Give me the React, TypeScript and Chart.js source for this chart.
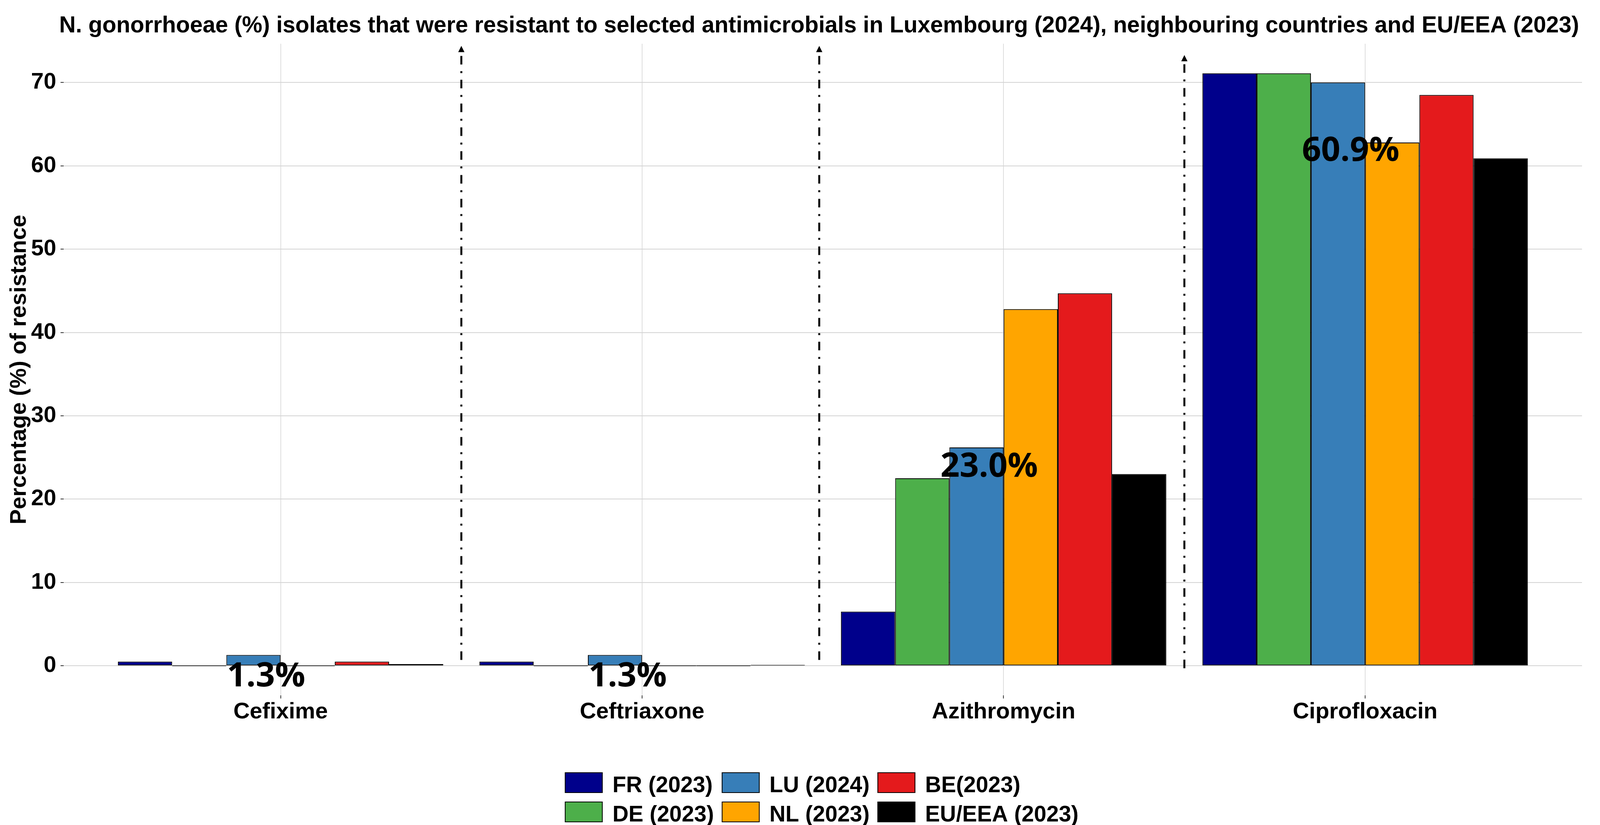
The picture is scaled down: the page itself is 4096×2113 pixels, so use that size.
import React, { useEffect, useRef } from "react";
import { Chart, registerables } from "chart.js";

Chart.register(...registerables);

// ---------------- data ----------------
const categories = ["Cefixime", "Ceftriaxone", "Azithromycin", "Ciprofloxacin"];
const seriesNames = ["FR (2023)", "DE (2023)", "LU (2024)", "NL (2023)", "BE(2023)", "EU/EEA (2023)"];
const seriesColors = ["#00008B", "#4DAF4A", "#377EB8", "#FFA500", "#E41A1C", "#000000"];
const frValues = [0.5, 0.5, 6.5, 71.1];
const deValues = [0, 0, 22.5, 71.1];
const luValues = [1.3, 1.3, 26.2, 70.0];
const nlValues = [0, 0, 42.8, 62.8];
const beValues = [0.5, 0, 44.7, 68.5];
const euValues = [0.2, 0.1, 23.0, 60.9];
const yTicks = [0, 10, 20, 30, 40, 50, 60, 70];
const labelTexts = ["1.3%", "1.3%", "23.0%", "60.9%"];
const labelY = [-2.5, -2.5, 22.7, 60.6];
const separatorX = [0.5, 1.49, 2.5];
const separatorFrom = [0.7, 0.7, -0.3];
const separatorTo = [74.4, 74.4, 73.3];
const titleText =
  "N. gonorrhoeae (%) isolates that were resistant to selected antimicrobials in Luxembourg (2024), neighbouring countries and EU/EEA (2023)";
const yTitleText = "Percentage (%) of resistance";

const seriesValues = [frValues, deValues, luValues, nlValues, beValues, euValues];

// ---------------- layout / style ----------------
const W = 4096;
const H = 2113;
const FONT = '"Liberation Sans", Arial, sans-serif';
const dataMax = 71.1;
const yMin = -dataMax * 0.05;
const yMax = dataMax * 1.05;

const overlayPlugin = {
  id: "overlay",
  afterDatasetsDraw(chart: any) {
    const { ctx } = chart;
    const x = chart.scales.x;
    const y = chart.scales.y;
    // dash-dot separators with arrows
    ctx.save();
    ctx.strokeStyle = "#000";
    ctx.fillStyle = "#000";
    ctx.lineWidth = 5;
    ctx.lineCap = "butt";
    separatorX.forEach((sx, i) => {
      const px = x.getPixelForValue(sx);
      const yb = y.getPixelForValue(separatorFrom[i]);
      const yt = y.getPixelForValue(separatorTo[i]);
      const headLen = 16;
      ctx.setLineDash([22, 17, 5, 17]);
      ctx.beginPath();
      ctx.moveTo(px, yb);
      ctx.lineTo(px, yt + headLen - 1);
      ctx.stroke();
      ctx.setLineDash([]);
      ctx.beginPath();
      ctx.moveTo(px, yt);
      ctx.lineTo(px - 8, yt + headLen);
      ctx.lineTo(px + 8, yt + headLen);
      ctx.closePath();
      ctx.fill();
    });
    ctx.restore();
    // value labels
    ctx.save();
    ctx.font = 'bold 86px "Open Sans", "Noto Sans", sans-serif';
    ctx.textAlign = "center";
    ctx.textBaseline = "alphabetic";
    ctx.fillStyle = "#000";
    labelTexts.forEach((t, i) => {
      ctx.fillText(t, x.getPixelForValue(i - 0.04), y.getPixelForValue(labelY[i]));
    });
    ctx.restore();
  },
  afterDraw(chart: any) {
    const { ctx, chartArea } = chart;
    // title
    ctx.save();
    ctx.fillStyle = "#000";
    ctx.font = `bold 58.5px ${FONT}`;
    ctx.textAlign = "center";
    ctx.textBaseline = "alphabetic";
    ctx.fillText(titleText, 2097, 83);
    // y axis title
    ctx.translate(66, (chartArea.top + chartArea.bottom) / 2);
    ctx.rotate(-Math.PI / 2);
    ctx.font = `bold 58px ${FONT}`;
    ctx.fillText(yTitleText, 0, 0);
    ctx.restore();

    // legend: 2 rows, filled column by column
    ctx.save();
    const fs = 57;
    ctx.font = `bold ${fs}px ${FONT}`;
    const nrow = 2;
    const ncol = Math.ceil(seriesNames.length / nrow);
    const keyW = 97;
    const keyH = 53;
    const keyGap = 25;
    const colGap = 20;
    const rowPitch = 75;
    const legendTop = 1978;
    const colW: number[] = [];
    for (let c = 0; c < ncol; c++) {
      let m = 0;
      for (let r = 0; r < nrow; r++) {
        const idx = c * nrow + r;
        if (idx < seriesNames.length) m = Math.max(m, ctx.measureText(seriesNames[idx]).width);
      }
      colW.push(m);
    }
    const total = colW.reduce((a, w) => a + keyW + keyGap + w, 0) + colGap * (ncol - 1);
    let cx = (chartArea.left + chartArea.right) / 2 - 3 - total / 2;
    for (let c = 0; c < ncol; c++) {
      for (let r = 0; r < nrow; r++) {
        const idx = c * nrow + r;
        if (idx >= seriesNames.length) continue;
        const ky = legendTop + r * rowPitch;
        ctx.fillStyle = seriesColors[idx];
        ctx.fillRect(cx, ky, keyW, keyH);
        ctx.strokeStyle = "#000";
        ctx.lineWidth = 2;
        ctx.strokeRect(cx + 1, ky + 1, keyW - 2, keyH - 2);
        ctx.fillStyle = "#000";
        ctx.textAlign = "left";
        ctx.textBaseline = "alphabetic";
        ctx.fillText(seriesNames[idx], cx + keyW + keyGap, ky + keyH / 2 + 0.36 * fs + 4);
      }
      cx += keyW + keyGap + colW[c] + colGap;
    }
    ctx.restore();
  },
};

export default function App() {
  const ref = useRef<HTMLCanvasElement>(null);
  useEffect(() => {
    document.body.style.margin = "0";
    const datasets = seriesValues.map((vals, i) => ({
      label: seriesNames[i],
      data: vals.map((v, j) => ({ x: j, y: v })),
      backgroundColor: seriesColors[i],
      borderColor: "#000000",
      borderWidth: 2,
      borderSkipped: false as const,
      minBarLength: 2,
      categoryPercentage: 0.9,
      barPercentage: 1.0,
    }));
    const tickFont = { family: FONT, size: 58, weight: "bold" as const };
    const chart = new Chart(ref.current as HTMLCanvasElement, {
      type: "bar",
      data: { datasets },
      options: {
        responsive: false,
        animation: false,
        devicePixelRatio: 1,
        events: [],
        layout: { padding: { top: 112, right: 46, bottom: 252, left: 0 } },
        plugins: {
          legend: { display: false },
          tooltip: { enabled: false },
          title: { display: false },
        },
        scales: {
          x: {
            type: "linear",
            min: -0.6,
            max: 3.6,
            offset: false,
            grid: {
              offset: false,
              color: "#d3d3d3",
              lineWidth: 1.5,
              drawTicks: true,
              tickLength: 8,
              tickColor: "#333333",
              tickWidth: 2,
            },
            border: { display: false },
            ticks: {
              autoSkip: false,
              maxRotation: 0,
              minRotation: 0,
              padding: 0,
              color: "#000",
              font: tickFont,
              callback: (v: any) => categories[v as number] ?? "",
            },
            afterBuildTicks: (axis: any) => {
              axis.ticks = categories.map((_, i) => ({ value: i }));
            },
            afterFit: (axis: any) => {
              axis.height = 80;
            },
          },
          y: {
            type: "linear",
            min: yMin,
            max: yMax,
            grid: {
              color: "#d3d3d3",
              lineWidth: 2,
              drawTicks: true,
              tickLength: 8,
              tickColor: "#333333",
              tickWidth: 2,
            },
            border: { display: false },
            ticks: { padding: 11, color: "#000", font: tickFont },
            afterBuildTicks: (axis: any) => {
              axis.ticks = yTicks.map((v) => ({ value: v }));
            },
            afterFit: (axis: any) => {
              axis.width = 163;
            },
          },
        },
      },
      plugins: [overlayPlugin],
    });
    return () => chart.destroy();
  }, []);
  return (
    <div style={{ width: W, height: H, background: "#ffffff" }}>
      <canvas ref={ref} width={W} height={H} style={{ display: "block", width: W, height: H }} />
    </div>
  );
}
